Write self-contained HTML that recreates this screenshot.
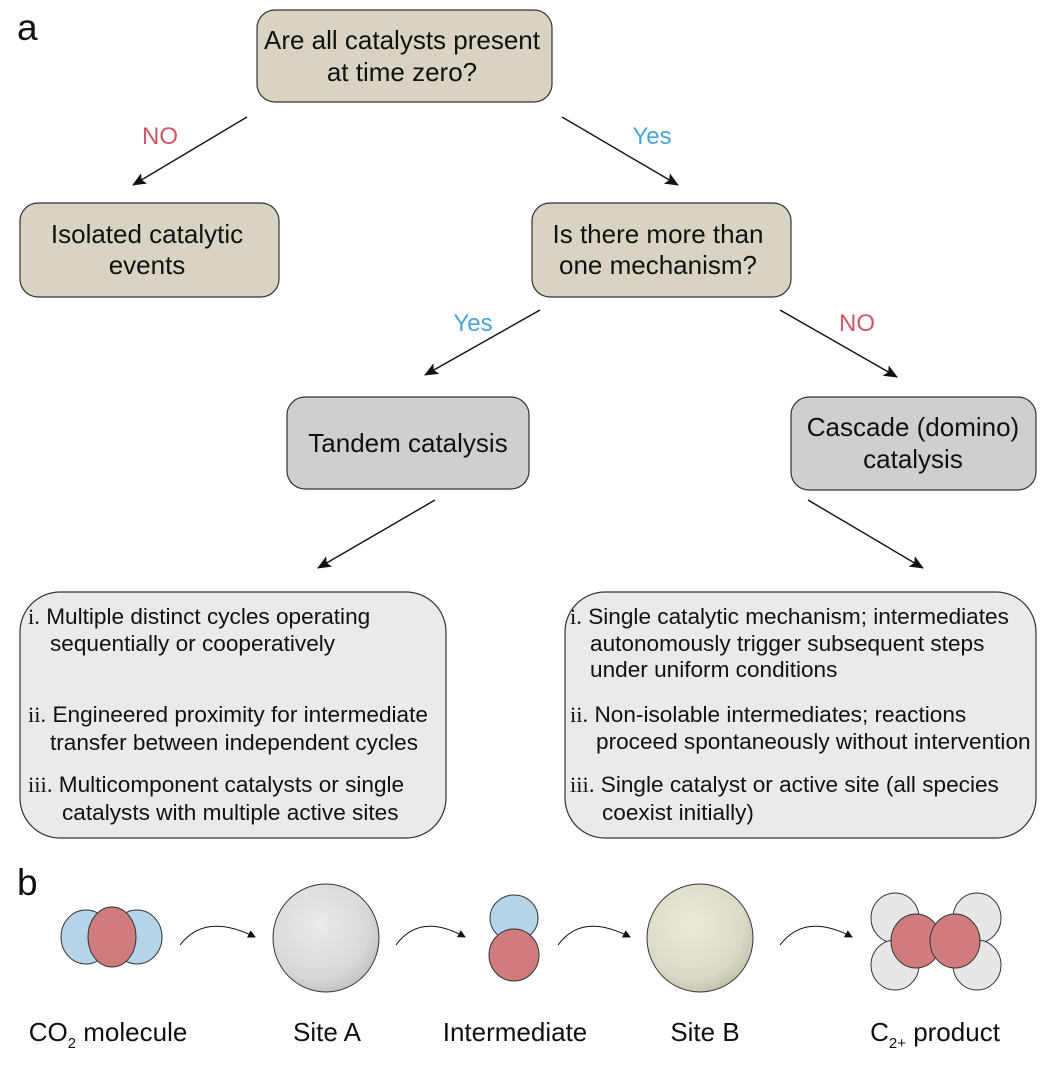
<!DOCTYPE html>
<html><head><meta charset="utf-8"><style>
html,body{margin:0;padding:0;background:#fff;}
svg{display:block;font-family:"Liberation Sans",Arial,sans-serif;}
.s{font-family:"Liberation Serif",serif;}
</style></head><body>
<svg width="1047" height="1065" viewBox="0 0 1047 1065" xmlns="http://www.w3.org/2000/svg">
<defs>
<marker id="ah" markerWidth="14" markerHeight="12" refX="13" refY="6" orient="auto" markerUnits="userSpaceOnUse" viewBox="0 0 14 12">
<path d="M0,0 L14,6 L0,12 L3,6 z" fill="#111"/></marker>
<marker id="ah2" markerWidth="8" markerHeight="8" refX="7" refY="4" orient="auto" markerUnits="userSpaceOnUse" viewBox="0 0 8 8">
<path d="M0,0 L8,4 L0,8 z" fill="#111"/></marker>
<radialGradient id="gA" cx="0.42" cy="0.38" r="0.7"><stop offset="0" stop-color="#ebebeb"/><stop offset="0.7" stop-color="#d8d8d8"/><stop offset="1" stop-color="#b8b8b8"/></radialGradient>
<radialGradient id="gB" cx="0.42" cy="0.38" r="0.7"><stop offset="0" stop-color="#eeebdd"/><stop offset="0.7" stop-color="#dcd9c6"/><stop offset="1" stop-color="#bdb9a4"/></radialGradient>
</defs>
<g font-size="37" fill="#111"><text x="17" y="40">a</text><text x="17" y="895">b</text></g>

<g stroke="#333" stroke-width="1.2">
<rect x="257" y="10" width="295" height="92" rx="18" fill="#d9d3c3"/>
<rect x="20" y="203" width="259" height="94" rx="18" fill="#d9d3c3"/>
<rect x="532" y="203" width="259" height="94" rx="18" fill="#d9d3c3"/>
<rect x="287" y="397" width="242" height="92" rx="18" fill="#cfcfcf"/>
<rect x="791" y="397" width="245" height="93" rx="18" fill="#cfcfcf"/>
<rect x="20" y="592" width="426" height="246" rx="40" fill="#e9eae9"/>
<rect x="565" y="592" width="471" height="246" rx="40" fill="#e9eae9"/>
</g>

<g font-size="26" fill="#111" text-anchor="middle">
<text x="402" y="49">Are all catalysts present</text>
<text x="402" y="81">at time zero?</text>
<text x="147" y="243">Isolated catalytic</text>
<text x="147" y="274">events</text>
<text x="658" y="243">Is there more than</text>
<text x="658" y="274">one mechanism?</text>
<text x="408" y="452">Tandem catalysis</text>
<text x="913" y="436">Cascade (domino)</text>
<text x="913" y="468">catalysis</text>
</g>

<g stroke="#111" stroke-width="1.4" marker-end="url(#ah)">
<line x1="247" y1="117" x2="133" y2="185"/>
<line x1="562" y1="117" x2="678" y2="185"/>
<line x1="540" y1="310" x2="425" y2="375"/>
<line x1="780" y1="310" x2="897" y2="377"/>
<line x1="435" y1="500" x2="318" y2="568"/>
<line x1="808" y1="500" x2="923" y2="568"/>
</g>
<g font-size="24" text-anchor="middle">
<text x="160" y="144" fill="#cf5866">NO</text>
<text x="652" y="144" fill="#4aa6d6">Yes</text>
<text x="473" y="331" fill="#4aa6d6">Yes</text>
<text x="857" y="331" fill="#cf5866">NO</text>
</g>

<g font-size="22.6" fill="#111">
<text x="28" y="624"><tspan class="s">i.</tspan> Multiple distinct cycles operating</text>
<text x="50" y="651">sequentially or cooperatively</text>
<text x="28" y="722"><tspan class="s">ii.</tspan> Engineered proximity for intermediate</text>
<text x="50" y="750">transfer between independent cycles</text>
<text x="28" y="792"><tspan class="s">iii.</tspan> Multicomponent catalysts or single</text>
<text x="62" y="820">catalysts with multiple active sites</text>

<text x="570" y="624"><tspan class="s">i.</tspan> Single catalytic mechanism; intermediates</text>
<text x="590" y="651">autonomously trigger subsequent steps</text>
<text x="590" y="677">under uniform conditions</text>
<text x="570" y="722"><tspan class="s">ii.</tspan> Non-isolable intermediates; reactions</text>
<text x="596" y="749">proceed spontaneously without intervention</text>
<text x="570" y="792"><tspan class="s">iii.</tspan> Single catalyst or active site (all species</text>
<text x="602" y="820">coexist initially)</text>
</g>

<!-- part b -->
<g stroke="#333" stroke-width="1">
<ellipse cx="86" cy="937" rx="25" ry="27" fill="#b5d4e8"/>
<ellipse cx="137" cy="937" rx="25" ry="27" fill="#b5d4e8"/>
<ellipse cx="112" cy="937" rx="24" ry="30" fill="#d07c7e"/>
<ellipse cx="326" cy="938" rx="53" ry="54" fill="url(#gA)"/>
<ellipse cx="514" cy="918" rx="24" ry="23" fill="#b5d4e8"/>
<ellipse cx="514" cy="955" rx="25" ry="26" fill="#d07c7e"/>
<ellipse cx="700" cy="938" rx="53" ry="54" fill="url(#gB)"/>
<ellipse cx="895" cy="918" rx="24" ry="25" fill="#e6e7e6"/>
<ellipse cx="977" cy="918" rx="24" ry="25" fill="#e6e7e6"/>
<ellipse cx="895" cy="965" rx="24" ry="25" fill="#e6e7e6"/>
<ellipse cx="977" cy="965" rx="24" ry="25" fill="#e6e7e6"/>
<ellipse cx="916" cy="941" rx="25" ry="27" fill="#d07c7e"/>
<ellipse cx="955" cy="941" rx="25" ry="27" fill="#d07c7e"/>
</g>
<g fill="none" stroke="#111" stroke-width="1" marker-end="url(#ah2)">
<path d="M180,945 Q205,912 255,937"/>
<path d="M396,945 Q420,912 465,937"/>
<path d="M558,945 Q582,912 630,937"/>
<path d="M780,945 Q805,912 852,937"/>
</g>
<g font-size="26" fill="#111" text-anchor="middle">
<text x="108" y="1041">CO<tspan font-size="15" dy="7">2</tspan><tspan dy="-7"> molecule</tspan></text>
<text x="327" y="1041">Site A</text>
<text x="515" y="1041">Intermediate</text>
<text x="705" y="1041">Site B</text>
<text x="935" y="1041">C<tspan font-size="15" dy="7">2+</tspan><tspan dy="-7"> product</tspan></text>
</g>
</svg>
</body></html>
